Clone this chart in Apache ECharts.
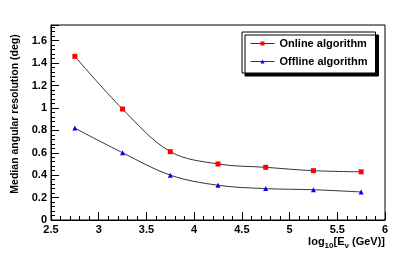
<!DOCTYPE html>
<html><head><meta charset="utf-8">
<script src="https://cdn.jsdelivr.net/npm/echarts@6/dist/echarts.min.js"></script>
<style>html,body{margin:0;padding:0;background:#fff}#c{width:417px;height:260px}</style>
</head><body><div id="c"></div>
<script>
const energies = [2.75, 3.25, 3.75, 4.25, 4.75, 5.25, 5.75];
const onlineRes = [1.46, 0.99, 0.61, 0.50, 0.47, 0.44, 0.43];
const offlineRes = [0.82, 0.60, 0.40, 0.31, 0.28, 0.27, 0.25];
const seriesNames = ['Online algorithm', 'Offline algorithm'];

const font = 'Liberation Sans, Arial, sans-serif';
const chart = echarts.init(document.getElementById('c'), null, {renderer: 'canvas'});
const axisCommon = {
  axisLine: {show: true, lineStyle: {color: '#000', width: 1}},
  axisTick: {show: true, inside: true, length: 8, lineStyle: {color: '#000'}},
  minorTick: {show: true, splitNumber: 5, length: 4, lineStyle: {color: '#000'}},
  splitLine: {show: false},
  axisLabel: {color: '#000', fontFamily: font, fontWeight: 'bold', fontSize: 11}
};
chart.setOption({
  animation: false,
  grid: {left: 51, right: 32, top: 25, bottom: 40, show: true, borderColor: '#000', borderWidth: 1},
  xAxis: Object.assign({}, axisCommon, {
    type: 'value', min: 2.5, max: 6, interval: 0.5,
    axisLabel: Object.assign({}, axisCommon.axisLabel, {margin: 4, formatter: v => String(v)})
  }),
  yAxis: Object.assign({}, axisCommon, {
    type: 'value', min: 0, max: 1.74, interval: 0.2,
    axisLabel: Object.assign({}, axisCommon.axisLabel, {margin: 4, showMaxLabel: false,
      formatter: v => (Math.round(v*10)/10).toString()})
  }),
  legend: {
    show: true, left: 242, top: 32, width: 132, orient: 'vertical',
    itemWidth: 24, itemHeight: 5, itemGap: 7,
    padding: [6, 8, 6, 8],
    borderColor: '#000', borderWidth: 1, backgroundColor: '#fff',
    shadowColor: '#000', shadowBlur: 0, shadowOffsetX: 3, shadowOffsetY: 3,
    lineStyle: {color: '#333', width: 1},
    textStyle: {color: '#000', fontFamily: font, fontWeight: 'bold', fontSize: 11},
    data: seriesNames
  },
  graphic: [{
    type: 'text', right: 32, top: 236,
    style: {
      text: 'log{sub|10}[E{sub|ν} (GeV)]',
      fill: '#000', font: 'bold 11px ' + font,
      rich: {sub: {fontSize: 8, fontWeight: 'bold', fontFamily: font, verticalAlign: 'bottom', padding: [8, 0, 0, 0]}}
    }
  }, {
    type: 'text', x: 15, y: 114, rotation: Math.PI / 2,
    style: {
      text: 'Median angular resolution (deg)',
      fill: '#000', font: 'bold 10.5px ' + font, align: 'center', verticalAlign: 'middle'
    }
  }],
  series: [
    {name: seriesNames[0], type: 'line', smooth: 0.35,
     data: energies.map((e, i) => [e, onlineRes[i]]),
     symbol: 'rect', symbolSize: 5, itemStyle: {color: '#ff0000'},
     lineStyle: {color: '#333', width: 1}},
    {name: seriesNames[1], type: 'line', smooth: 0.35,
     data: energies.map((e, i) => [e, offlineRes[i]]),
     symbol: 'triangle', symbolSize: 5, itemStyle: {color: '#0000ff'},
     lineStyle: {color: '#333', width: 1}}
  ]
});
</script></body></html>
